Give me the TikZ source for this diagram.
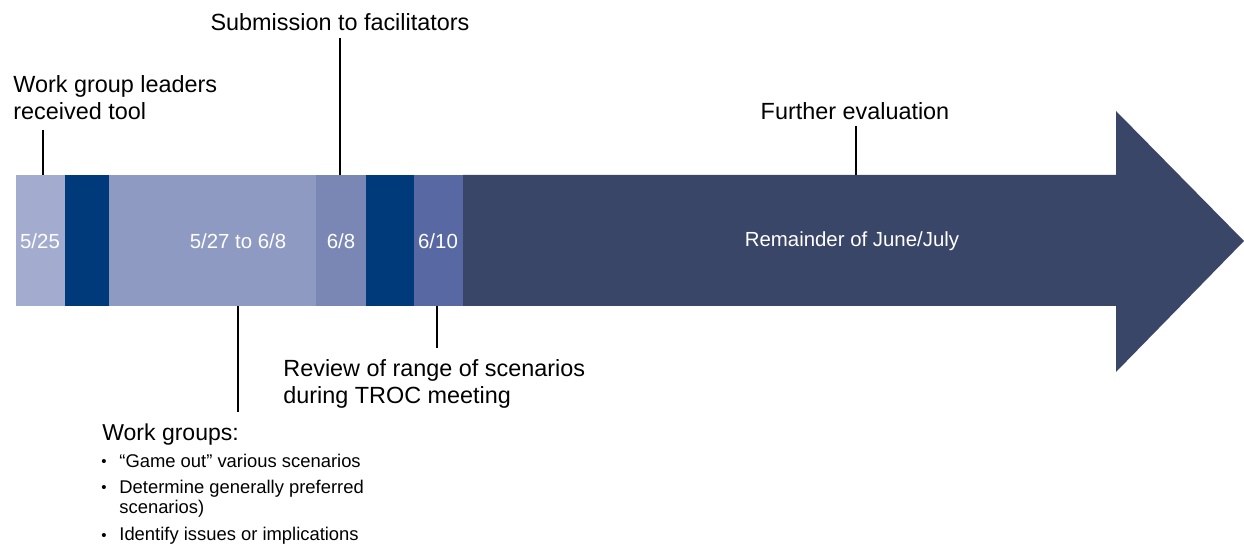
\documentclass[tikz,border=0pt]{standalone}
\usepackage{fontspec}
\setmainfont{Liberation Sans}
\usepackage{xcolor}
\usetikzlibrary{calc}
\definecolor{segA}{HTML}{A3ACCF}
\definecolor{segB}{HTML}{8E9AC2}
\definecolor{segC}{HTML}{7A87B4}
\definecolor{segD}{HTML}{5868A2}
\definecolor{navy}{HTML}{003A7B}
\definecolor{arrowblue}{HTML}{3A4668}
\tikzset{
  barlabel/.style={text=white, font=\fontsize{10.2}{11}\selectfont, inner sep=0},
  callout/.style={font=\fontsize{11.7}{13.5}\selectfont, inner sep=0, align=left},
  bulletitem/.style={font=\fontsize{9.2}{10}\selectfont, inner sep=0, anchor=base west},
  bulletdot/.style={font=\fontsize{7.5}{8}\selectfont, inner sep=0, anchor=base},
  leader/.style={black, line width=0.6pt}
}

\begin{document}
\begin{tikzpicture}[x=0.5pt, y=-0.5pt]
\useasboundingbox (0,0) rectangle (1244,545);
% timeline arrow
\fill[arrowblue] (463,175) -- (1116,175) -- (1116,111) -- (1244,241) -- (1116,372) -- (1116,306) -- (463,306) -- cycle;
\foreach \xa/\xb/\c in {16/65/segA, 65/109/navy, 109/316/segB, 316/366/segC, 366/414/navy, 414/463/segD} {
  \fill[\c] (\xa,175) rectangle (\xb,306);
}
\node[barlabel] (d525) at (40,241) {5/25};
\node[barlabel] (d527) at (238,241) {5/27 to 6/8};
\node[barlabel] (d68) at (341,241) {6/8};
\node[barlabel] (d610) at (438,241) {6/10};
\node[barlabel] (drest) at (852,241) {Remainder of June/July};
% callouts above
\node[callout, anchor=base west] (leaders) at (13,120) {Work group leaders\\received tool};
\node[callout, anchor=base] (submit) at (340,31) {Submission to facilitators};
\node[callout, anchor=base] (further) at (855,120) {Further evaluation};
\coordinate (lt1) at (43,130);   \coordinate (lb1) at (43,175);
\coordinate (lt2) at (340,38);   \coordinate (lb2) at (340,175);
\coordinate (lt3) at (856,126);  \coordinate (lb3) at (856,175);
\draw[leader] (lt1) -- (lb1);
\draw[leader] (lt2) -- (lb2);
\draw[leader] (lt3) -- (lb3);
% callouts below
\node[callout, anchor=base west] (review) at (283,404) {Review of range of scenarios\\during TROC meeting};
\node[callout, anchor=base west, font=\fontsize{11.5}{13}\selectfont] (wgroups) at (102,441) {Work groups:};
\node[bulletdot] (dot1) at (104,467) {\textbullet};
\node[bulletitem] (item1) at (119,468) {“Game out” various scenarios};
\node[bulletdot] (dot2) at (104,493) {\textbullet};
\node[bulletitem] (item2) at (119,494) {Determine generally preferred};
\node[bulletitem] (item2b) at (119,514) {scenarios)};
\node[bulletdot] (dot3) at (104,540) {\textbullet};
\node[bulletitem] (item3) at (119,541) {Identify issues or implications};
\coordinate (ld1) at (238,306);  \coordinate (le1) at (238,412);
\coordinate (ld2) at (437,306);  \coordinate (le2) at (437,348);
\draw[leader] (ld1) -- (le1);
\draw[leader] (ld2) -- (le2);
\end{tikzpicture}
\end{document}
